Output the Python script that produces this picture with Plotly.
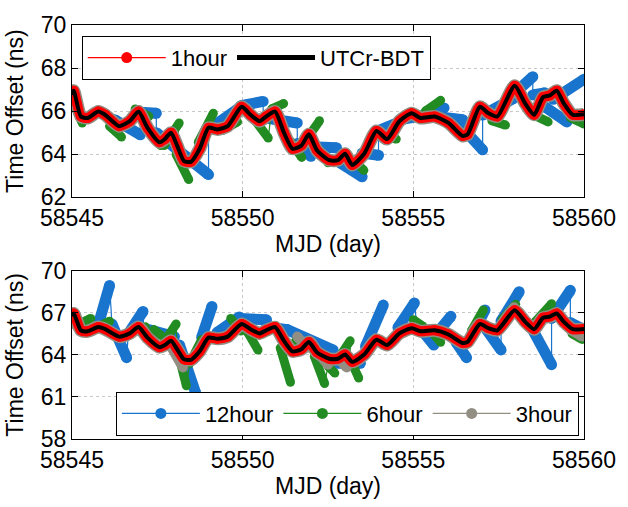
import plotly.graph_objects as go

# ---------------- data ----------------
# UTCr-BDT reference curve (MJD, ns)
mjd = [58545.0, 58545.05, 58545.26, 58545.46, 58545.77, 58545.97, 58546.38, 58546.69, 58546.95,
       58547.21, 58547.56, 58547.72, 58547.90, 58548.08, 58548.28, 58548.49, 58548.74, 58549.0,
       58549.26, 58549.56, 58549.97, 58550.23, 58550.49, 58550.69, 58550.95, 58551.21, 58551.46,
       58551.72, 58551.94, 58552.18, 58552.54, 58552.79, 58553.0, 58553.21, 58553.56, 58553.92,
       58554.23, 58554.59, 58554.95, 58555.21, 58555.62, 58556.03, 58556.44, 58556.59, 58556.95,
       58557.2, 58557.46, 58557.97, 58558.28, 58558.54, 58558.8, 58559.0, 58559.2, 58559.41,
       58559.67, 58560.0]
utcr_bdt = [66.75, 66.95, 65.75, 65.68, 65.98, 65.83, 65.30, 65.53, 65.98,
            65.23, 64.55, 64.70, 65.00, 64.40, 63.68, 63.65, 64.25, 65.23,
            65.15, 65.30, 66.20, 65.83, 65.53, 65.75, 65.98, 65.0, 64.25,
            64.40, 64.92, 64.17, 63.72, 63.72, 64.02, 63.50, 64.02, 65.08,
            64.70, 65.53, 65.90, 65.68, 65.75, 65.45, 64.85, 64.92, 66.20,
            65.9, 65.75, 67.18, 66.35, 65.83, 66.65, 66.73, 66.95, 66.35,
            65.83, 65.85]

# prediction segments: (start MJD, start ns, end MJD, end ns)
top_12h = [(58546.25, 65.6, 58547.0, 64.9), (58547.0, 65.95, 58547.47, 65.9),
           (58547.47, 65.0, 58549.0, 63.05), (58549.0, 65.15, 58549.95, 66.2),
           (58549.95, 66.25, 58550.6, 66.45), (58550.6, 65.7, 58551.6, 65.45),
           (58551.6, 64.5, 58552.0, 63.9), (58552.0, 64.35, 58552.75, 64.3),
           (58552.75, 63.7, 58553.5, 62.95), (58553.5, 64.05, 58553.98, 63.95),
           (58553.98, 65.1, 58554.6, 65.5), (58554.6, 65.6, 58555.3, 65.8),
           (58555.3, 65.8, 58555.9, 66.15), (58555.9, 65.7, 58556.45, 65.6),
           (58556.45, 65.2, 58557.03, 64.2), (58557.03, 65.82, 58557.95, 66.6),
           (58557.95, 66.8, 58558.5, 67.6), (58558.5, 66.75, 58558.85, 66.85),
           (58558.85, 66.2, 58559.5, 65.5), (58559.1, 66.55, 58560.0, 67.48)]
top_6h = [(58545.0, 66.5, 58545.3, 65.45), (58546.1, 65.3, 58546.45, 64.8),
          (58546.85, 66.1, 58547.25, 65.75), (58547.2, 65.3, 58547.6, 64.4),
          (58547.7, 64.4, 58548.14, 65.45), (58548.05, 64.0, 58548.42, 62.82),
          (58548.7, 64.55, 58549.14, 65.9), (58549.4, 65.1, 58549.85, 65.5),
          (58550.35, 65.6, 58550.75, 64.75), (58550.85, 66.1, 58551.2, 66.35),
          (58551.4, 64.6, 58551.73, 63.85), (58551.77, 64.47, 58552.25, 65.55),
          (58552.5, 63.6, 58552.8, 63.75), (58553.25, 63.7, 58553.55, 63.25),
          (58554.2, 64.8, 58554.5, 64.7), (58555.35, 66.0, 58555.8, 66.5),
          (58557.3, 65.55, 58557.7, 65.35), (58558.55, 65.8, 58558.95, 65.5),
          (58559.6, 65.7, 58560.0, 65.4)]
bot_12h = [(58545.8, 66.4, 58546.1, 68.95), (58546.17, 66.2, 58546.6, 63.8),
           (58546.65, 65.5, 58547.08, 67.1), (58547.1, 65.9, 58548.0, 65.3),
           (58548.15, 64.7, 58548.62, 61.3), (58548.8, 65.25, 58549.1, 67.45),
           (58549.25, 65.6, 58549.9, 66.7), (58549.9, 66.6, 58550.7, 66.5),
           (58550.7, 66.0, 58551.3, 65.8), (58551.3, 65.8, 58552.65, 64.35),
           (58552.65, 63.4, 58553.45, 63.4), (58553.6, 64.6, 58554.12, 67.55),
           (58554.55, 65.95, 58555.03, 67.7), (58555.1, 66.2, 58555.6, 64.7),
           (58555.6, 65.25, 58556.1, 66.75), (58556.25, 64.9, 58556.56, 63.8),
           (58556.85, 66.0, 58557.1, 67.2), (58557.1, 65.95, 58557.57, 64.35),
           (58557.57, 66.4, 58558.1, 68.5), (58558.45, 66.0, 58559.05, 63.3),
           (58559.05, 66.6, 58559.6, 68.6), (58559.6, 66.3, 58560.0, 65.8)]
bot_6h = [(58545.2, 66.2, 58545.55, 66.6), (58545.85, 66.1, 58546.1, 66.4),
          (58546.95, 65.7, 58547.15, 66.0), (58547.4, 65.8, 58547.6, 65.4),
          (58547.7, 64.9, 58548.05, 66.2), (58548.08, 64.4, 58548.35, 61.8),
          (58548.45, 63.4, 58548.8, 65.1), (58549.65, 66.6, 58549.95, 65.7),
          (58550.15, 65.6, 58550.45, 64.35), (58551.1, 64.5, 58551.4, 62.05),
          (58551.55, 65.0, 58551.85, 64.6), (58552.1, 63.9, 58552.4, 61.95),
          (58552.5, 63.2, 58552.7, 62.7), (58552.85, 63.9, 58553.15, 65.0),
          (58553.15, 63.7, 58553.4, 62.35), (58555.0, 66.5, 58555.3, 66.0),
          (58555.55, 65.6, 58555.8, 64.9), (58556.7, 65.7, 58557.05, 67.2),
          (58557.6, 66.5, 58558.0, 67.6), (58558.55, 66.3, 58559.05, 67.65),
          (58559.65, 65.5, 58559.95, 65.1)]
bot_3h = [(58545.05, 66.3, 58545.3, 65.6), (58547.9, 64.6, 58548.25, 63.1),
          (58551.6, 65.3, 58551.9, 64.5), (58552.25, 64.0, 58552.5, 63.3),
          (58552.85, 63.6, 58553.05, 63.1), (58557.7, 66.6, 58557.95, 67.4),
          (58559.6, 65.8, 58559.95, 65.3)]

x_ticks = [58545, 58550, 58555, 58560]
top_yticks = [62, 64, 66, 68, 70]
bot_yticks = [58, 61, 64, 67, 70]

# ---------------- style ----------------
FONT = "Liberation Sans, Arial, sans-serif"
BLUE = "#1874CD"
GREEN = "#228B22"
GRAY = "#928e83"
RED = "#ff0000"
BLACK = "#000000"

fig = go.Figure()


def add_segments(segs, color, width, xa, ya, thin=True):
    thin_x, thin_y, thick_x, thick_y = [], [], [], []
    prev = None
    for t0, v0, t1, v1 in segs:
        if prev is not None and abs(t0 - prev[0]) < 0.12:
            thin_x += [prev[0], t0, None]
            thin_y += [prev[1], v0, None]
        thick_x += [t0, t1, None]
        thick_y += [v0, v1, None]
        prev = (t1, v1)
    if thin:
        fig.add_trace(go.Scatter(x=thin_x, y=thin_y, mode="lines", xaxis=xa, yaxis=ya,
                                 line=dict(color=color, width=1.2), showlegend=False,
                                 hoverinfo="skip"))
    fig.add_trace(go.Scatter(x=thick_x, y=thick_y, mode="lines+markers", xaxis=xa, yaxis=ya,
                             line=dict(color=color, width=width),
                             marker=dict(color=color, size=width), showlegend=False,
                             connectgaps=False, hoverinfo="skip"))


def add_curves(xa, ya):
    fig.add_trace(go.Scatter(x=mjd, y=utcr_bdt, mode="lines", xaxis=xa, yaxis=ya,
                             line=dict(color=GRAY, width=13, shape="spline", smoothing=0.6),
                             showlegend=False, hoverinfo="skip"))
    fig.add_trace(go.Scatter(x=mjd, y=utcr_bdt, mode="lines+markers", xaxis=xa, yaxis=ya,
                             line=dict(color=RED, width=10, shape="spline", smoothing=0.6),
                             marker=dict(color=RED, size=10), showlegend=False,
                             hoverinfo="skip"))
    fig.add_trace(go.Scatter(x=mjd, y=utcr_bdt, mode="lines", xaxis=xa, yaxis=ya,
                             line=dict(color=BLACK, width=4, shape="spline", smoothing=0.6),
                             showlegend=False, hoverinfo="skip"))


# top panel
add_segments(top_12h, BLUE, 11, "x", "y")
add_segments(top_6h, GREEN, 9, "x", "y")
add_curves("x", "y")
# bottom panel
add_segments(bot_12h, BLUE, 11, "x2", "y2")
add_segments(bot_6h, GREEN, 9, "x2", "y2")
add_segments(bot_3h, GRAY, 10, "x2", "y2", thin=False)
add_curves("x2", "y2")

# legend entries
fig.add_trace(go.Scatter(x=[None], y=[None], mode="lines+markers", name="1hour",
                         line=dict(color=RED, width=1.2), marker=dict(color=RED, size=11),
                         legend="legend", xaxis="x", yaxis="y"))
fig.add_trace(go.Scatter(x=[None], y=[None], mode="lines", name="UTCr-BDT",
                         line=dict(color=BLACK, width=5), legend="legend", xaxis="x", yaxis="y"))
for nm, col in [("12hour", BLUE), ("6hour", GREEN), ("3hour", GRAY)]:
    fig.add_trace(go.Scatter(x=[None], y=[None], mode="lines+markers", name=nm,
                             line=dict(color=col, width=1.2), marker=dict(color=col, size=11),
                             legend="legend2", xaxis="x2", yaxis="y2"))

axis_common = dict(showline=True, linecolor="black", linewidth=1, mirror="ticks",
                   ticks="inside", ticklen=6, tickcolor="black", showgrid=True,
                   gridcolor="#c8c8c8", griddash="dot", gridwidth=1, zeroline=False,
                   ticklabeloverflow="allow",
                   tickfont=dict(family=FONT, size=23, color="black"))

xa = dict(axis_common, range=[58545, 58560], tickvals=x_ticks,
          ticktext=[str(v) for v in x_ticks],
          title=dict(text="MJD (day)", font=dict(family=FONT, size=23, color="black"),
                     standoff=6))

fig.update_layout(
    width=628, height=507,
    margin=dict(l=72, r=31, t=19, b=60),
    paper_bgcolor="white", plot_bgcolor="white",
    font=dict(family=FONT, size=23, color="black"),
    xaxis=dict(xa, anchor="y", domain=[0, 1]),
    xaxis2=dict(xa, anchor="y2", domain=[0, 1]),
    yaxis=dict(axis_common, anchor="x", domain=[0.584, 1], range=[62, 70], tickvals=top_yticks,
               title=dict(text="Time Offset (ns)", font=dict(family=FONT, size=23), standoff=10)),
    yaxis2=dict(axis_common, anchor="x2", domain=[0, 0.4065], range=[58, 70], tickvals=bot_yticks,
                title=dict(text="Time Offset (ns)", font=dict(family=FONT, size=23), standoff=10)),
    legend=dict(orientation="h", x=0.019, y=0.974, xanchor="left", yanchor="top",
                bgcolor="white", bordercolor="black", borderwidth=1, itemwidth=78,
                font=dict(family=FONT, size=22, color="black")),
    legend2=dict(orientation="h", x=0.0857, y=0.1145, xanchor="left", yanchor="top",
                 bgcolor="white", bordercolor="black", borderwidth=1, itemwidth=78,
                 font=dict(family=FONT, size=22, color="black")),
    showlegend=True,
)

fig.write_html("out.html")
